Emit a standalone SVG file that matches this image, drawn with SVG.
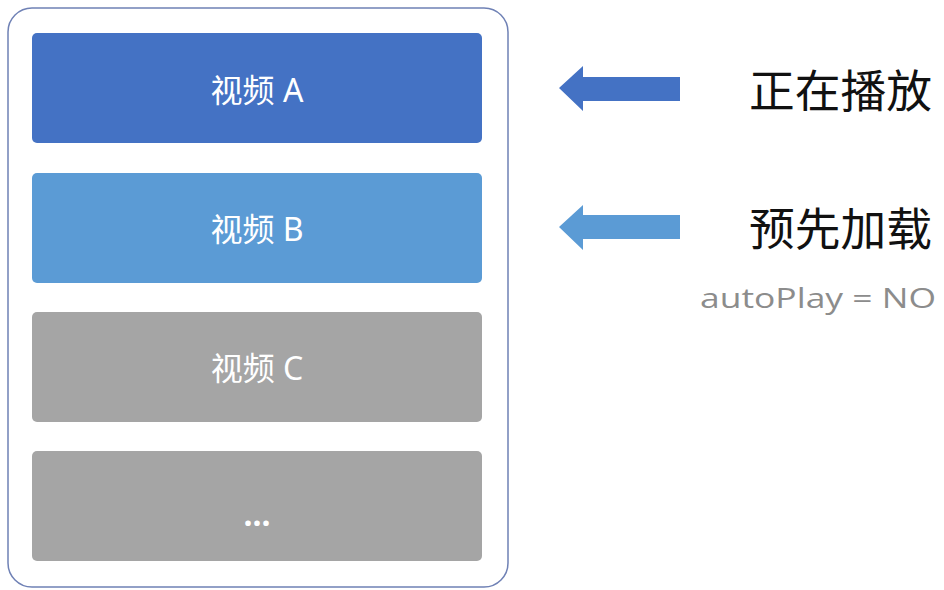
<svg xmlns="http://www.w3.org/2000/svg" width="944" height="590" viewBox="0 0 944 590">
<style>
.frame{fill:#ffffff;stroke:#6f81b5;stroke-width:1.5}
.box{stroke:none}
.lbl{font-family:"Noto Sans","Noto Sans CJK SC",sans-serif;font-size:32px;fill:#ffffff;text-anchor:middle}
.big{font-family:"Noto Sans CJK SC",sans-serif;font-size:45px;fill:#111111}
.note{font-family:"Open Sans","Noto Sans",sans-serif;font-size:27px;fill:#8c8c8c}
</style>
<rect width="944" height="590" fill="#ffffff"/>
<g id="frame"><rect class="frame" x="8" y="8" width="500" height="579" rx="24"/></g>
<g id="videoA"><rect class="box" x="32" y="33" width="450" height="110" rx="5" fill="#4472c4"/><text class="lbl" x="257" y="102">视频 A</text></g>
<g id="videoB"><rect class="box" x="32" y="173" width="450" height="110" rx="5" fill="#5b9bd5"/><text class="lbl" x="257" y="241">视频 B</text></g>
<g id="videoC"><rect class="box" x="32" y="312" width="450" height="110" rx="5" fill="#a5a5a5"/><text class="lbl" x="257" y="380">视频 C</text></g>
<g id="videoMore"><rect class="box" x="32" y="451" width="450" height="110" rx="5" fill="#a5a5a5"/><text class="lbl" x="257" y="526" font-weight="bold">...</text></g>
<g id="connectors">
<polygon points="559,88 583,66 583,77 680,77 680,101 583,101 583,111" fill="#4472c4"/>
<polygon points="559,227 583,205 583,215 680,215 680,239 583,239 583,250" fill="#5b9bd5"/>
</g>
<g id="playing"><text class="big" x="749" y="108" textLength="183" lengthAdjust="spacingAndGlyphs">正在播放</text></g>
<g id="preload"><text class="big" x="749" y="246" textLength="183" lengthAdjust="spacingAndGlyphs">预先加载</text>
<text class="note" x="700" y="308" textLength="236" lengthAdjust="spacingAndGlyphs">autoPlay = NO</text></g>
</svg>
